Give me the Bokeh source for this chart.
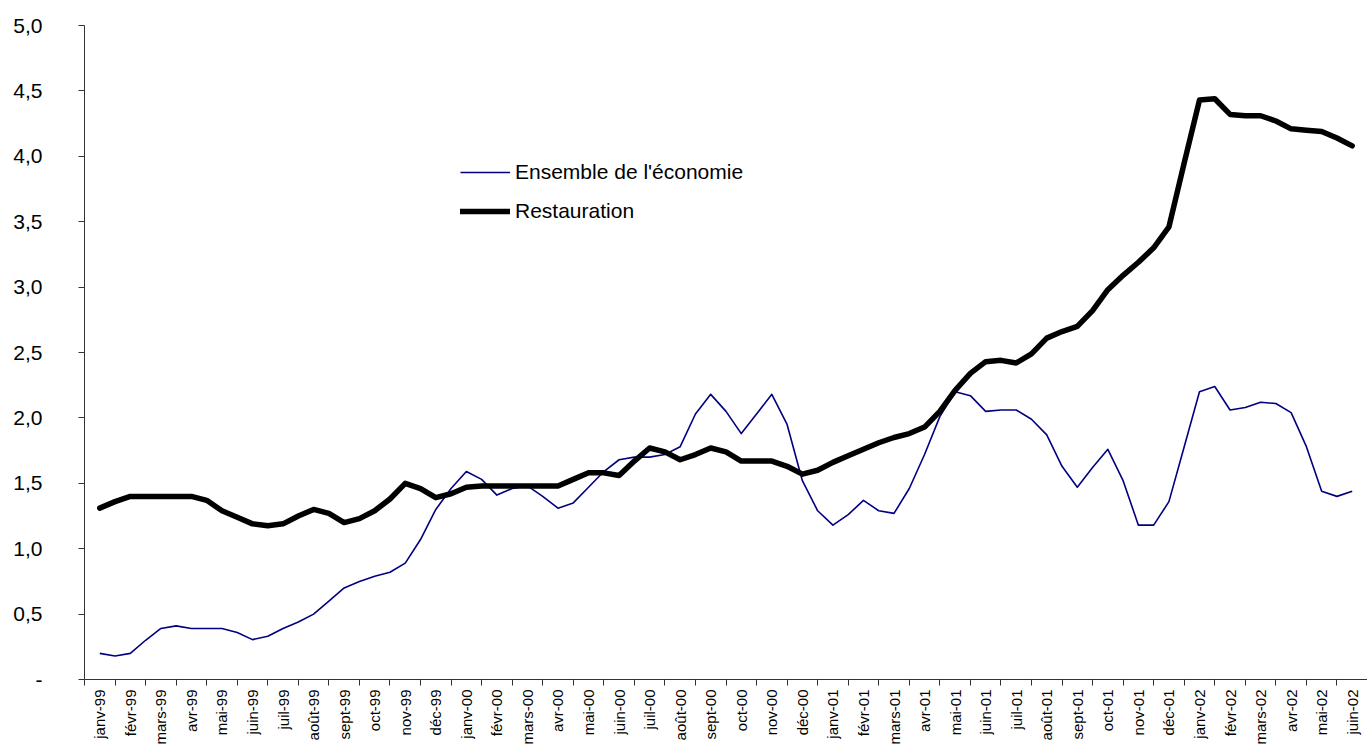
import numpy as np
from bokeh.plotting import figure
from bokeh.models import Range1d, FixedTicker, Legend, LegendItem
from bokeh.embed import file_html
from bokeh.resources import INLINE

# Month categories (x axis)
months = ["janv", "févr", "mars", "avr", "mai", "juin",
          "juil", "août", "sept", "oct", "nov", "déc"]
years = ["99", "00", "01", "02"]
month_labels = [f"{m}-{y}" for y in years for m in months][:42]

# Semi-monthly readings (index step = half a month, from janv-99 to juin-02)
ensemble = [0.20, 0.18, 0.20, 0.30, 0.39, 0.41, 0.39, 0.39, 0.39, 0.36,
            0.305, 0.33, 0.39, 0.44, 0.50, 0.60, 0.70, 0.75, 0.79, 0.82,
            0.89, 1.07, 1.30, 1.46, 1.59, 1.53, 1.41, 1.46, 1.48, 1.40,
            1.31, 1.35, 1.47, 1.59, 1.68, 1.70, 1.70, 1.72, 1.78, 2.03,
            2.18, 2.05, 1.88, 2.03, 2.18, 1.95, 1.52, 1.29, 1.18, 1.26,
            1.37, 1.29, 1.27, 1.46, 1.72, 2.01, 2.20, 2.17, 2.05, 2.06,
            2.06, 1.99, 1.87, 1.63, 1.47, 1.62, 1.76, 1.52, 1.18, 1.18,
            1.36, 1.78, 2.20, 2.24, 2.06, 2.08, 2.12, 2.11, 2.04, 1.78,
            1.44, 1.40, 1.44]
restauration = [1.31, 1.36, 1.40, 1.40, 1.40, 1.40, 1.40, 1.37, 1.29, 1.24,
                1.19, 1.175, 1.19, 1.25, 1.30, 1.27, 1.20, 1.23, 1.29, 1.38,
                1.50, 1.46, 1.39, 1.42, 1.47, 1.48, 1.48, 1.48, 1.48, 1.48,
                1.48, 1.53, 1.58, 1.58, 1.56, 1.67, 1.77, 1.74, 1.68, 1.72,
                1.77, 1.74, 1.67, 1.67, 1.67, 1.63, 1.57, 1.60, 1.66, 1.71,
                1.76, 1.81, 1.85, 1.88, 1.93, 2.05, 2.21, 2.34, 2.43, 2.44,
                2.42, 2.49, 2.61, 2.66, 2.70, 2.82, 2.98, 3.09, 3.19, 3.30,
                3.46, 3.95, 4.43, 4.44, 4.32, 4.31, 4.31, 4.27, 4.21, 4.20,
                4.19, 4.14, 4.08]

y_ticks = [0, 0.5, 1.0, 1.5, 2.0, 2.5, 3.0, 3.5, 4.0, 4.5, 5.0]
y_tick_labels = ["-", "0,5", "1,0", "1,5", "2,0", "2,5", "3,0", "3,5", "4,0", "4,5", "5,0"]

x = np.arange(len(ensemble)) * 0.5

FONT = "Liberation Sans"

p = figure(width=1367, height=747, output_backend="svg", toolbar_location=None,
           x_range=Range1d(-0.5, 41.5), y_range=Range1d(0, 5),
           min_border_left=84, min_border_right=0, min_border_top=25,
           min_border_bottom=67)
p.outline_line_color = None
p.xgrid.visible = False
p.ygrid.visible = False
p.background_fill_color = "white"
p.border_fill_color = "white"

r1 = p.line(x, ensemble, line_color="#000080", line_width=1.6, line_join="round")
r2 = p.line(x, restauration, line_color="black", line_width=5.5,
            line_join="round", line_cap="round")

# X axis
xa = p.xaxis[0]
xa.ticker = FixedTicker(ticks=list(range(42)),
                        minor_ticks=[k - 0.5 for k in range(43)])
xa.major_label_overrides = {i: lab for i, lab in enumerate(month_labels)}
xa.major_label_orientation = np.pi / 2
xa.major_tick_out = 0
xa.major_tick_in = 0
xa.minor_tick_out = 6
xa.minor_tick_in = 0
xa.minor_tick_line_color = "#333333"
xa.axis_line_color = "#333333"
xa.major_label_text_font = FONT
xa.major_label_text_font_size = "15px"
xa.major_label_text_color = "black"
xa.major_label_standoff = 4

# Y axis
ya = p.yaxis[0]
ya.ticker = FixedTicker(ticks=y_ticks, minor_ticks=[])
ya.major_label_overrides = {t: lab for t, lab in zip(y_ticks, y_tick_labels)}
ya.major_tick_out = 6
ya.major_tick_in = 0
ya.minor_tick_out = 0
ya.minor_tick_in = 0
ya.axis_line_color = "#333333"
ya.major_tick_line_color = "#333333"
ya.major_label_text_font = FONT
ya.major_label_text_font_size = "21px"
ya.major_label_text_color = "black"
ya.major_label_standoff = 36

legend = Legend(items=[LegendItem(label="Ensemble de l'économie", renderers=[r1]),
                       LegendItem(label="Restauration", renderers=[r2])],
                location=(376, 456), orientation="vertical",
                border_line_color=None, background_fill_alpha=0,
                padding=0, margin=0, spacing=15,
                glyph_width=50, glyph_height=20, label_height=20,
                label_standoff=5, label_text_font=FONT,
                label_text_font_size="21px", label_text_color="black")
p.add_layout(legend, "center")

open("out.html", "w").write(file_html(p, INLINE))
